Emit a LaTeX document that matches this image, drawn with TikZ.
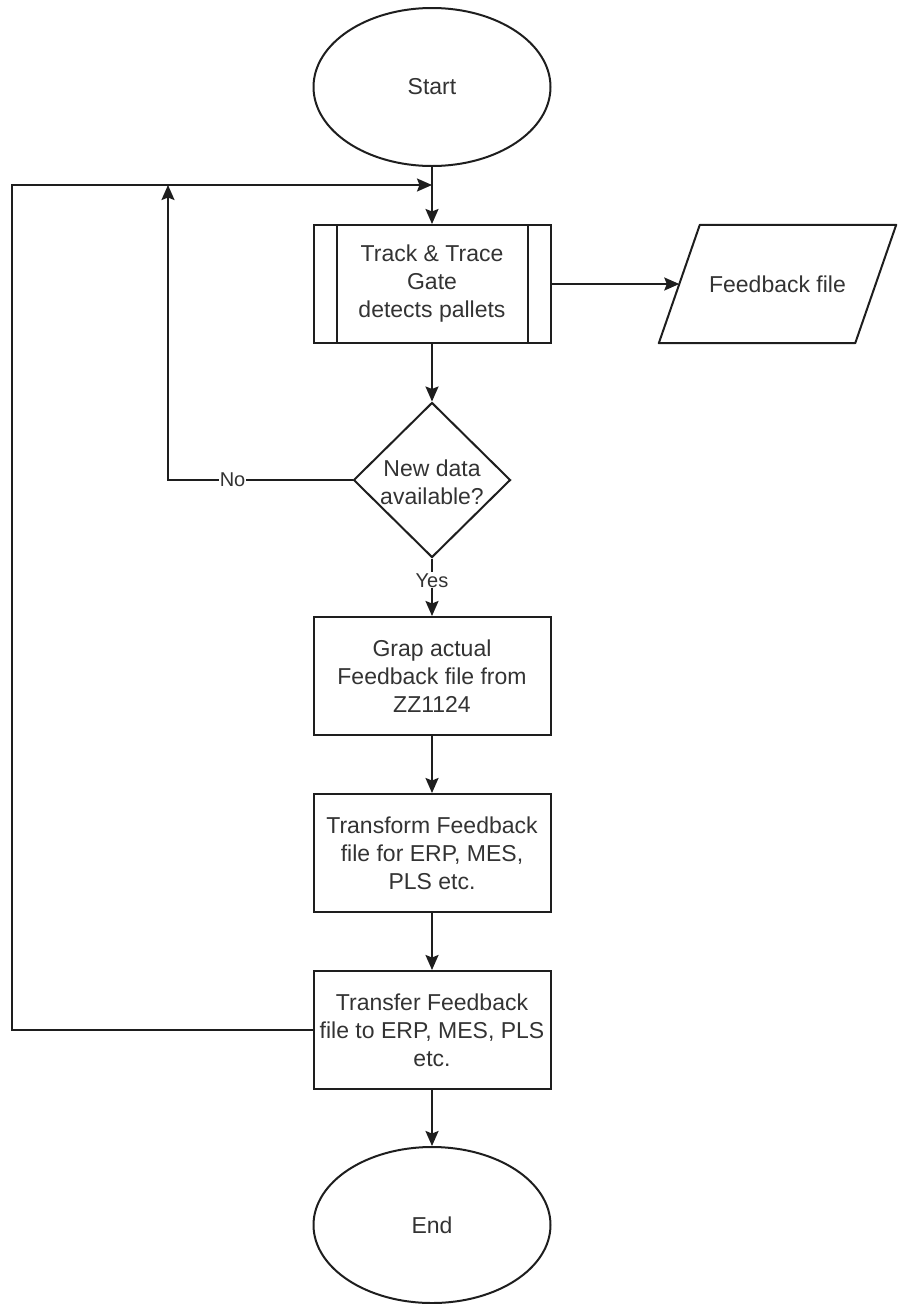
\documentclass[tikz,border=0pt]{standalone}
\usepackage{fontspec}
\setmainfont{Liberation Sans}
\usetikzlibrary{shapes.geometric,arrows.meta}
\definecolor{linec}{HTML}{1E1E1E}
\definecolor{txtc}{HTML}{333333}
\begin{document}
\begin{tikzpicture}[x=1pt,y=-1pt,
  every node/.style={font=\fontsize{23}{28}\selectfont, text=txtc, align=center},
  box/.style={draw=linec, line width=2pt, minimum width=237pt, minimum height=118pt, inner sep=0pt},
  term/.style={draw=linec, ellipse, line width=2pt, minimum width=237pt, minimum height=158pt, inner sep=0pt},
  decision/.style={draw=linec, diamond, line width=2pt, minimum width=157pt, minimum height=155pt, inner sep=0pt},
  plain/.style={inner sep=0pt},
  lbl/.style={fill=white, inner sep=1pt, font=\fontsize{20}{24}\selectfont},
  arr/.style={draw=linec, line width=2pt, -{Stealth[length=15pt, width=13pt, inset=2.5pt]}},
  ln/.style={draw=linec, line width=2pt}
]
\useasboundingbox (0,0) rectangle (904,1304);

\node[term] (start) at (432,87) {Start};
\node[box] (track) at (432,284) {Track \& Trace\\Gate\\detects pallets};
\draw[ln] ([xshift=24pt]track.north west) -- ([xshift=24pt]track.south west);
\draw[ln] ([xshift=-24pt]track.north east) -- ([xshift=-24pt]track.south east);

\node[plain, minimum width=196pt, minimum height=118pt] (fb) at (777.5,284) {Feedback file};
\draw[ln, line join=round] ([xshift=20.5pt]fb.north west) -- ([xshift=20.5pt]fb.north east)
  -- ([xshift=-20.5pt]fb.south east) -- ([xshift=-20.5pt]fb.south west) -- cycle;

\node[decision] (dec) at (432,480) {};
\node[plain] (dectext) at (432,482) {New data\\available?};

\node[box] (grap) at (432,676) {Grap actual\\Feedback file from\\ZZ1124};
\node[box] (transform) at (432,853) {Transform Feedback\\file for ERP, MES,\\PLS etc.};
\node[box] (transfer) at (432,1030) {Transfer Feedback\\file to ERP, MES, PLS\\etc.};
\node[term, minimum height=156pt] (end) at (432,1225) {End};

\coordinate (j1) at (168,185);
\coordinate (j2) at (432,185);
\coordinate (lft) at (12,185);

\draw[arr] (start) -- (track);
\draw[arr] (track.east) -- (fb.west);
\draw[arr] (track) -- (dec);
\draw[arr] (dec) -- node[lbl, pos=0.38]{Yes} (grap);
\draw[arr] (grap) -- (transform);
\draw[arr] (transform) -- (transfer);
\draw[arr] (transfer) -- (end);
\draw[arr] (dec.west) -- node[lbl, pos=0.65]{No} (dec.west -| j1) -- (j1);
\draw[arr] (transfer.west) -| (lft) -- (j2);
\end{tikzpicture}
\end{document}
